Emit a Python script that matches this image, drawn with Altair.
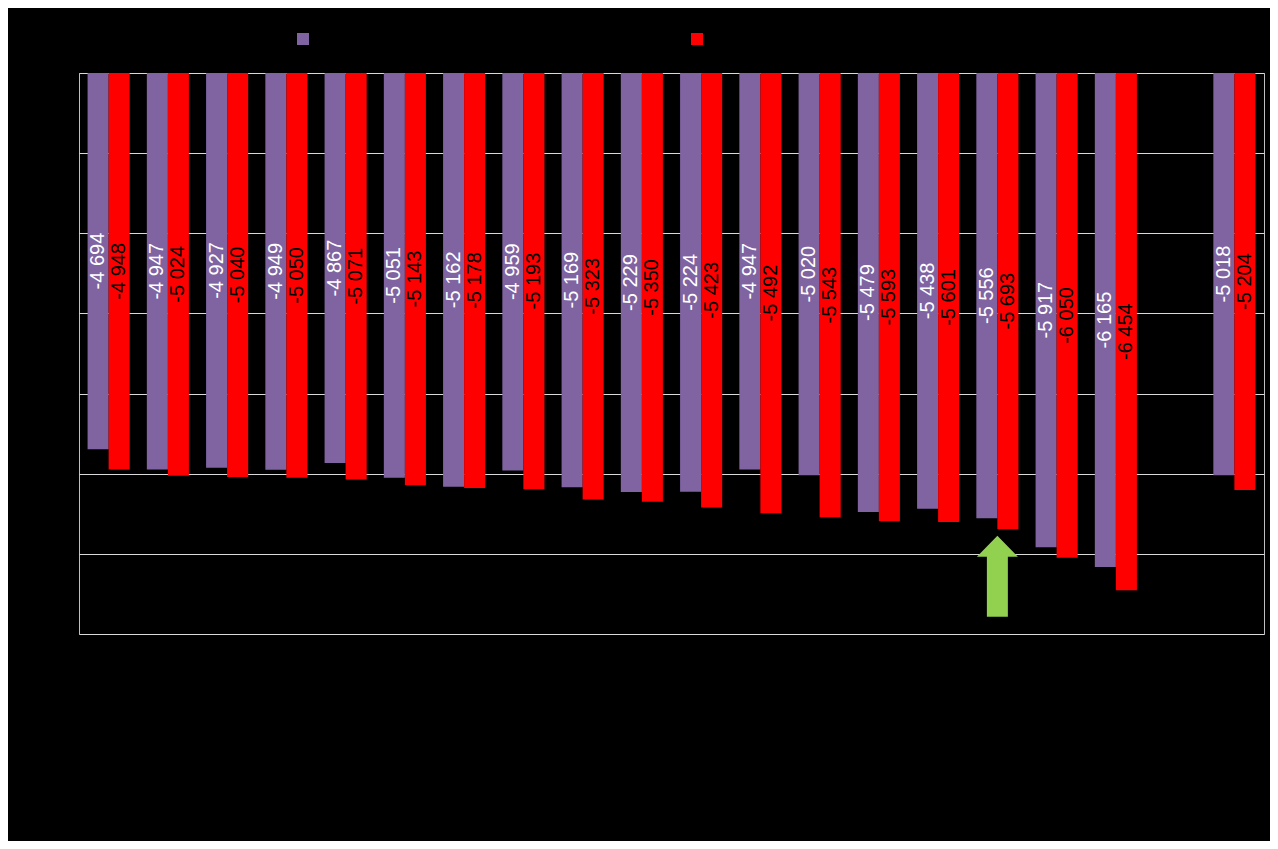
import altair as alt
import pandas as pd

categories = [f"C{i}" for i in range(1, 19)] + ["gap", "avg"]
series_names = ["Series 1", "Series 2"]
series1 = [-4694, -4947, -4927, -4949, -4867, -5051, -5162, -4959, -5169, -5229,
           -5224, -4947, -5020, -5479, -5438, -5556, -5917, -6165, None, -5018]
series2 = [-4948, -5024, -5040, -5050, -5071, -5143, -5178, -5193, -5323, -5350,
           -5423, -5492, -5543, -5593, -5601, -5693, -6050, -6454, None, -5204]
arrow_category = ["C16"]
arrow_value = [-6278]

rows = []
for cat, a, b in zip(categories, series1, series2):
    if a is not None:
        rows.append({"cat": cat, "series": series_names[0], "v": a})
    if b is not None:
        rows.append({"cat": cat, "series": series_names[1], "v": b})
df = pd.DataFrame(rows)
df["label"] = df["v"].apply(lambda v: f"{v:,}".replace(",", " "))
df["mid"] = df["v"] / 2

arrow_df = pd.DataFrame({"cat": arrow_category, "v": arrow_value})

x = alt.X("cat:N", scale=alt.Scale(domain=categories, paddingInner=0.29, paddingOuter=0.145),
          axis=alt.Axis(labels=False, ticks=False, domain=False, title=None, grid=False))
xoff = alt.XOffset("series:N", scale=alt.Scale(domain=series_names, paddingInner=0, paddingOuter=0))
yscale = alt.Scale(domain=[-7000, 0], nice=False, zero=False)

bars = alt.Chart(df).mark_bar().encode(
    x=x,
    xOffset=xoff,
    y=alt.Y("v:Q", scale=yscale,
            axis=alt.Axis(values=list(range(-7000, 1, 1000)), labels=False, ticks=False,
                          domain=False, title=None, grid=True, gridColor="#d9d9d9",
                          gridWidth=1)),
    color=alt.Color("series:N",
                    scale=alt.Scale(domain=series_names, range=["#8064A2", "#FF0000"]),
                    legend=alt.Legend(orient="none", legendX=218, legendY=-40,
                                      direction="horizontal", title=None,
                                      symbolType="square", symbolSize=144,
                                      symbolStrokeWidth=0, labelExpr="''",
                                      labelOffset=0, columnPadding=382, padding=0)),
)

labels = alt.Chart(df).mark_text(angle=270, align="center", baseline="middle",
                                 font="Liberation Sans", fontSize=20).encode(
    x=x,
    xOffset=xoff,
    y=alt.Y("mid:Q", scale=yscale),
    text="label:N",
    color=alt.condition(alt.datum.series == series_names[0], alt.value("white"), alt.value("black")),
)

arrow = alt.Chart(arrow_df).mark_point(
    shape="M0,-1L0.506,-0.481L0.259,-0.481L0.259,1L-0.259,1L-0.259,-0.481L-0.506,-0.481Z",
    size=6561, filled=True, color="#92D050", opacity=1, strokeWidth=0,
).encode(
    x=x,
    y=alt.Y("v:Q", scale=yscale),
)

chart = alt.layer(bars, labels, arrow).properties(
    width=1185, height=561,
    background="#000000",
    padding={"left": 71, "top": 65, "right": 6, "bottom": 207},
    autosize=alt.AutoSizeParams(type="none"),
).configure_view(stroke="#bfbfbf", strokeWidth=1)

chart.save("out.html", embed_options={"renderer": "svg", "actions": False})
